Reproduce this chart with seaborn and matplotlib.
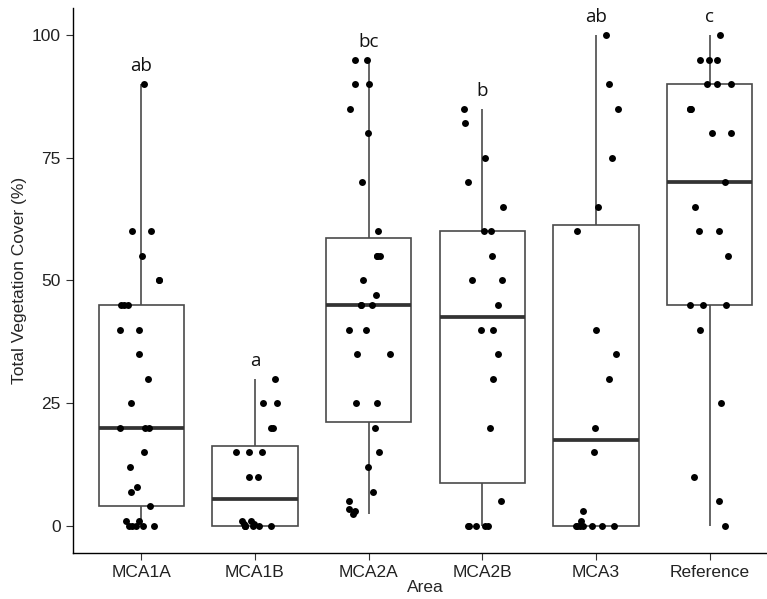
import numpy as np
import pandas as pd
import seaborn as sns
import matplotlib.pyplot as plt

areas = ["MCA1A", "MCA1B", "MCA2A", "MCA2B", "MCA3", "Reference"]
letters = ["ab", "a", "bc", "b", "ab", "c"]

mca1a = [90, 60, 60, 55, 50, 50, 45, 45, 45, 40, 40, 35, 30, 25, 20, 20, 20,
         15, 12, 8, 7, 4, 1, 1, 0, 0, 0, 0, 0]
mca1b = [30, 25, 25, 20, 20, 15, 15, 15, 10, 10, 1, 1, 0.5, 0.5, 0, 0, 0, 0, 0, 0]
mca2a = [95, 95, 90, 90, 85, 80, 70, 60, 55, 55, 55, 50, 47, 45, 45, 45, 40, 40,
         35, 35, 25, 25, 20, 15, 12, 7, 5, 3.5, 3, 2.5]
mca2b = [85, 82, 75, 70, 65, 60, 60, 55, 50, 50, 45, 40, 40, 35, 30, 20, 5,
         0, 0, 0, 0, 0]
mca3 = [100, 90, 85, 75, 65, 60, 40, 35, 30, 20, 15, 3, 1, 0, 0, 0, 0, 0, 0, 0]
reference = [100, 95, 95, 95, 90, 90, 90, 85, 85, 85, 80, 80, 70, 65, 60, 60,
             55, 45, 45, 45, 40, 25, 10, 5, 0]

groups = [mca1a, mca1b, mca2a, mca2b, mca3, reference]
df = pd.DataFrame({"Area": np.repeat(areas, [len(g) for g in groups]),
                   "Cover": np.concatenate(groups)})

sns.set_theme(style="ticks")
plt.rcParams["font.family"] = ["Liberation Sans", "DejaVu Sans"]

fig = plt.figure(figsize=(7.67, 5.99), dpi=100)
ax = fig.add_axes([73 / 767, 46 / 599, 705 / 767, 545 / 599])

sns.boxplot(data=df, x="Area", y="Cover", order=areas, width=0.75, whis=1.5,
            showcaps=False, showfliers=False, color="white", saturation=1,
            linecolor="#4a4a4a", linewidth=1.2,
            medianprops=dict(linewidth=2.7, color="#333333"), ax=ax)
np.random.seed(3)
sns.stripplot(data=df, x="Area", y="Cover", order=areas, jitter=0.2,
              color="black", size=5, linewidth=0, ax=ax)

# significance letters above each group
for i, (g, lab) in enumerate(zip(groups, letters)):
    ax.text(i, max(g) + 1.8, lab, ha="center", va="bottom", fontsize=13.5,
            color="#111111", family=["Open Sans", "DejaVu Sans"])

ax.set_xlim(-0.6, 5.6)
ax.set_ylim(-5.5, 105.5)
ax.set_yticks([0, 25, 50, 75, 100])
sns.despine(ax=ax)
for s in ["left", "bottom"]:
    ax.spines[s].set_color("black")
    ax.spines[s].set_linewidth(1.0)
ax.tick_params(axis="both", labelsize=12.5, labelcolor="#222222",
               color="#333333", length=5, width=0.8)
ax.tick_params(axis="y", pad=4)
ax.set_xlabel("Area", fontsize=12.5, labelpad=0)
ax.set_ylabel("Total Vegetation Cover (%)", fontsize=12.5, labelpad=3)

fig.savefig("out.png", dpi=100)
